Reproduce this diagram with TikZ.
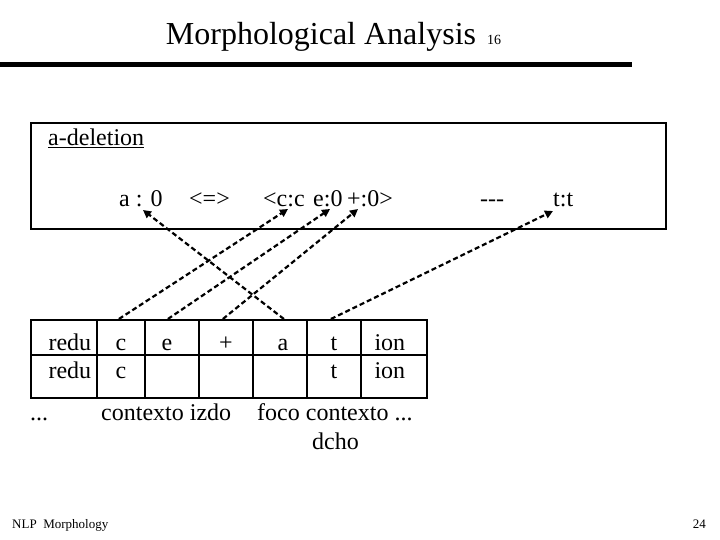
\documentclass[tikz,border=0pt]{standalone}
\usepackage{fontspec}
\setmainfont{Liberation Serif}
\usetikzlibrary{arrows.meta}
\begin{document}
\begin{tikzpicture}[x=1pt,y=-1pt,
  txt/.style={inner sep=0pt,anchor=base,font=\fontsize{24}{28}\selectfont},
  cell/.style={draw,line width=1.8pt,inner sep=0pt,anchor=north west},
  link/.style={line width=2.2pt,dash pattern=on 5pt off 3pt,-{Triangle[length=8pt,width=8pt]}}]
\useasboundingbox (0,0) rectangle (720,540);
% title
\node[txt,font=\fontsize{32}{36}\selectfont] (title) at (321,45) {Morphological Analysis};
\node[txt,anchor=base west,font=\fontsize{14}{16}\selectfont] (num) at (487,45) {16};
\fill (0,62.5) rectangle (632,67.5);
% rule box
\node[draw,line width=2pt,minimum width=635pt,minimum height=106pt,anchor=north west,inner sep=0pt] (box) at (30,122) {};
\node[txt,anchor=base west] (adel) at (48,146) {\underline{a-deletion}};
\node[txt,anchor=base west] (a0) at (119,207) {a : 0};
\node[txt,anchor=base west] (arr) at (189,207) {<=>};
\node[txt,anchor=base west] (cc) at (263,207) {<c:c};
\node[txt,anchor=base west] (e0) at (313,207) {e:0};
\node[txt,anchor=base west] (p0) at (347,207) {+:0>};
\node[txt,anchor=base west] (dash) at (480,207) {-{}-{}-};
\node[txt,anchor=base west] (tt) at (553,207) {t:t};
\coordinate (ta) at (143,210);
\coordinate (tc) at (288,209);
\coordinate (te) at (330,209);
\coordinate (tp) at (358,209);
\coordinate (tt2) at (553,211);
% table cells
\foreach \n/\x/\w in {1/30/66,2/96/48,3/144/54,4/198/54,5/252/54,6/306/54,7/360/66}{
  \node[cell,minimum width=\w pt,minimum height=35pt] (u\n) at (\x,319) {};
  \node[cell,minimum width=\w pt,minimum height=43pt] (l\n) at (\x,354) {};
}
\node[txt] (r1) at ([xshift=6pt]u1.center |- 0,350) {redu};
\node[txt] (r2) at ([xshift=6pt]u1.center |- 0,378) {redu};
\node[txt] (c1) at (u2.center |- 0,350) {c};
\node[txt] (c2) at (u2.center |- 0,378) {c};
\node[txt] (e1) at ([xshift=-5pt]u3.center |- 0,350) {e};
\node[txt] (p1) at (u4.center |- 0,350) {+};
\node[txt] (a1) at ([xshift=3pt]u5.center |- 0,350) {a};
\node[txt] (t1) at (u6.center |- 0,350) {t};
\node[txt] (t2) at (u6.center |- 0,378) {t};
\node[txt] (i1) at ([xshift=-4pt]u7.center |- 0,350) {ion};
\node[txt] (i2) at ([xshift=-4pt]u7.center |- 0,378) {ion};
% labels below
\node[txt,anchor=base west] (dots) at (30,420) {...};
\node[txt,anchor=base west] (ci) at (101,420) {contexto izdo};
\node[txt,anchor=base west] (fc) at (257,420) {foco contexto ...};
\node[txt,anchor=base west] (dc) at (312,449) {dcho};
% footer
\node[txt,anchor=base west,font=\fontsize{13}{15}\selectfont] (foot) at (12,528) {NLP\ \ Morphology};
\node[txt,anchor=base east,font=\fontsize{13}{15}\selectfont] (pg) at (706,528) {24};
% links
\draw[link] ([xshift=4pt]u5.north) -- (ta);
\draw[link] ([xshift=-2pt]u2.north) -- (tc);
\draw[link] ([xshift=-4pt]u3.north) -- (te);
\draw[link] ([xshift=-3pt]u4.north) -- (tp);
\draw[link] ([xshift=-3pt]u6.north) -- (tt2);
\end{tikzpicture}
\end{document}
